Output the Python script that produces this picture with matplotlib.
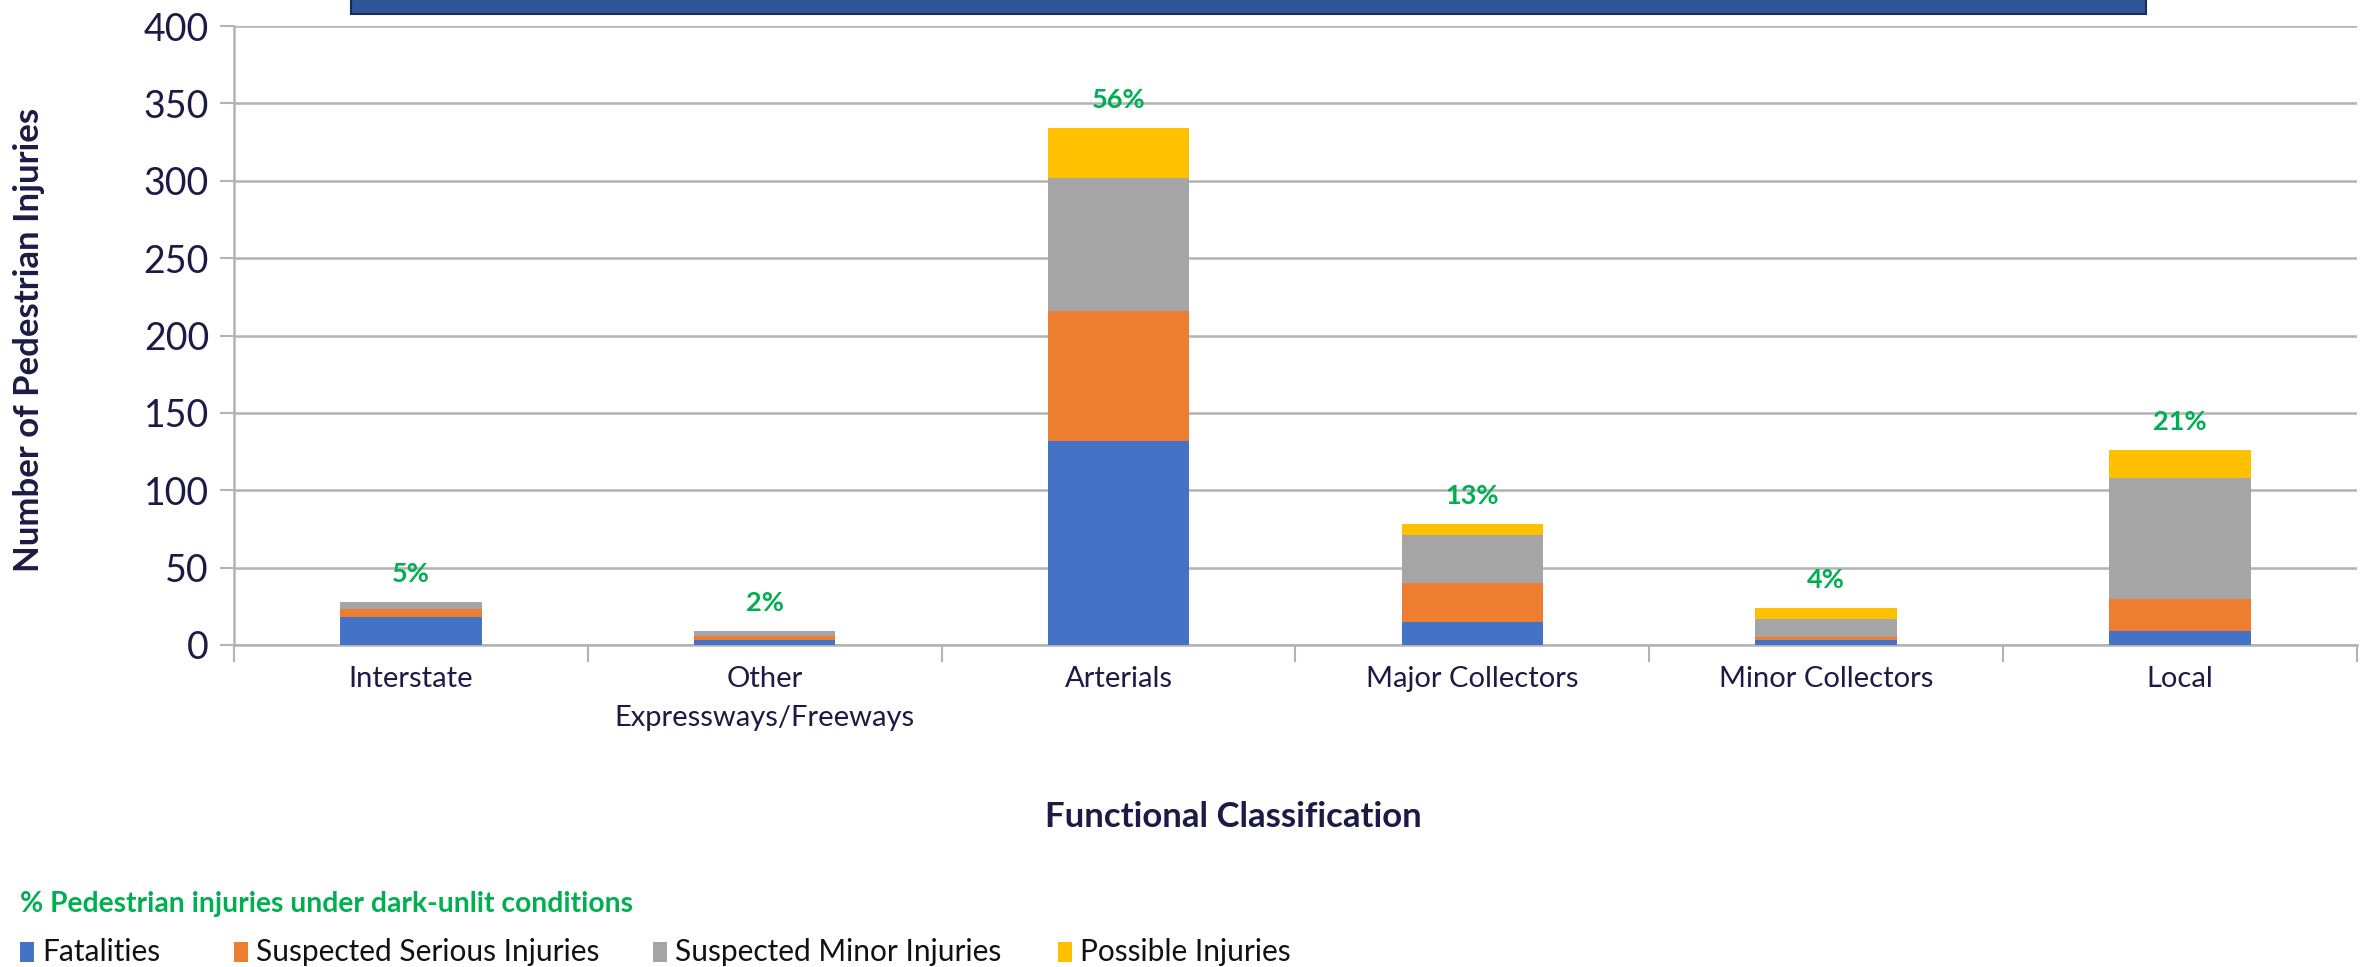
import matplotlib
matplotlib.use("Agg")
import matplotlib.pyplot as plt
from matplotlib.patches import Rectangle
import numpy as np

categories = ["Interstate", "Other\nExpressways/Freeways", "Arterials",
              "Major Collectors", "Minor Collectors", "Local"]
fatalities = [18, 3, 132, 15, 3, 9]
serious = [5, 3, 84, 25, 2, 21]
minor = [5, 3, 86, 31, 12, 78]
possible = [0, 0, 32, 7, 7, 18]
dark_unlit_pct = ["5%", "2%", "56%", "13%", "4%", "21%"]
series_names = ["Fatalities", "Suspected Serious Injuries",
                "Suspected Minor Injuries", "Possible Injuries"]
colors = ["#4472C4", "#ED7D31", "#A5A5A5", "#FFC000"]

plt.rcParams['font.family'] = ['Lato', 'DejaVu Sans']
navy = "#1B1B45"
green = "#00B050"
gridc = "#B3B3B3"

fig = plt.figure(figsize=(23.71, 9.67), dpi=100)
ax = fig.add_axes([0.0987, 0.333, 0.8953, 0.640])

x = np.arange(len(categories))
bottom = np.zeros(len(categories))
for vals, col, name in zip([fatalities, serious, minor, possible], colors, series_names):
    ax.bar(x, vals, width=0.4, bottom=bottom, color=col, label=name, zorder=3)
    bottom = bottom + np.array(vals)

for xi, tot, lab in zip(x, bottom, dark_unlit_pct):
    ax.text(xi, tot + 18, lab, ha="center", va="center", color=green,
            fontsize=19.5, fontweight="bold", zorder=4)

ax.set_xlim(-0.5, len(categories) - 0.5)
ax.set_ylim(0, 400)
ax.set_yticks(np.arange(0, 401, 50))
ax.tick_params(axis="y", labelsize=27, colors=gridc, labelcolor=navy,
               length=10, width=1.5, pad=8)
ax.set_xticks(x)
ax.set_xticklabels(categories, fontsize=21, color=navy, linespacing=1.65)
ax.tick_params(axis="x", length=0, pad=15)
ax.set_xticks(np.arange(-0.5, len(categories), 1.0), minor=True)
ax.tick_params(axis="x", which="minor", length=12, width=1.5, colors=gridc)
ax.grid(axis="y", color=gridc, linewidth=1.8, zorder=0)
for s in ["top", "right"]:
    ax.spines[s].set_visible(False)
for s in ["left", "bottom"]:
    ax.spines[s].set_color(gridc)
    ax.spines[s].set_linewidth(1.8)

fig.text(29 / 2371, 1 - 340 / 967, "Number of Pedestrian Injuries", rotation=90,
         ha="center", va="center", fontsize=25, fontweight="bold", color=navy)
fig.text(1233 / 2371, 1 - 817 / 967, "Functional Classification", ha="center", va="center",
         fontsize=25, fontweight="bold", color=navy)

# cut-off title box at top
fig.patches.append(Rectangle((351 / 2371, 1 - 14 / 967), (2146 - 351) / 2371, 20 / 967,
                             transform=fig.transFigure, facecolor="#2F5597",
                             edgecolor="#1A2E55", linewidth=1.5))

fig.text(20 / 2371, 1 - 904 / 967, "% Pedestrian injuries under dark-unlit conditions",
         ha="left", va="center", color=green, fontsize=20.3, fontweight="bold")

leg_x = [20, 234, 653, 1058]
for lx, name, col in zip(leg_x, series_names, colors):
    fig.patches.append(Rectangle((lx / 2371, 1 - 962 / 967), 14 / 2371, 20 / 967,
                                 transform=fig.transFigure, facecolor=col, edgecolor="none"))
    fig.text((lx + 22) / 2371, 1 - 952 / 967, name, ha="left", va="center",
             color="#111111", fontsize=21.5)

fig.savefig("out.png", dpi=100)
